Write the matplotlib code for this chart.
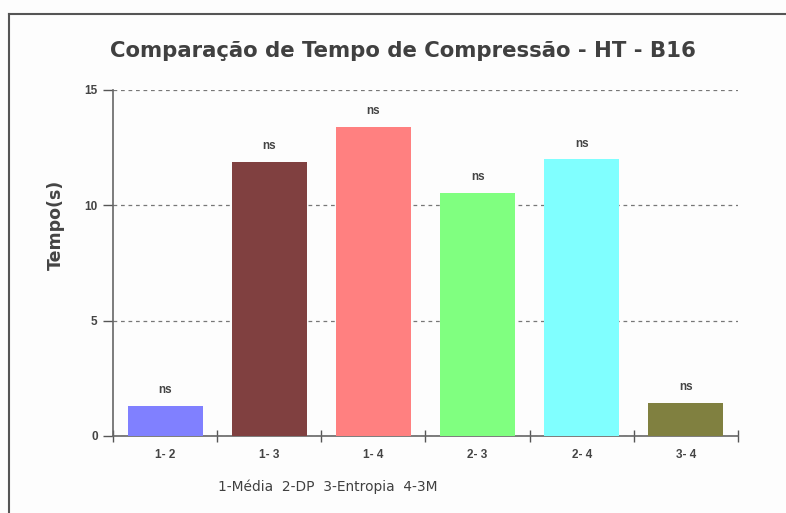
import matplotlib.pyplot as plt
from matplotlib.lines import Line2D

plt.rcParams['font.family'] = ['Liberation Sans', 'DejaVu Sans']

# Pairwise comparisons and compression time (s)
pairs = ['1- 2', '1- 3', '1- 4', '2- 3', '2- 4', '3- 4']
tempo = [1.3, 11.9, 13.4, 10.55, 12.0, 1.45]
signif = ['ns', 'ns', 'ns', 'ns', 'ns', 'ns']
cores = ['#8080ff', '#804040', '#ff8080', '#80ff80', '#80ffff', '#808040']

W, H = 786, 513
fig = plt.figure(figsize=(W / 100, H / 100), dpi=100)
fig.patch.set_facecolor('#fdfdfd')

# axes box in pixels: x 113..738, y 90..436
ax = fig.add_axes([113 / W, 1 - 436 / H, 625 / W, 346 / H])
ax.set_facecolor('#fdfdfd')

x = range(len(pairs))
ax.bar(x, tempo, width=0.72, color=cores, zorder=3)
for xi, v, s in zip(x, tempo, signif):
    ax.text(xi, v + 0.42, s, ha='center', va='bottom', fontsize=8.5,
            fontweight='bold', color='#444444')

ax.set_xlim(-0.5, len(pairs) - 0.5)
ax.set_ylim(0, 15)
ax.set_yticks([0, 5, 10, 15])
ax.yaxis.grid(True, linestyle=(0, (3, 3)), color='#777777', linewidth=0.9, zorder=0)

# x ticks sit on the category boundaries, labels centred under the bars
ax.set_xticks([i - 0.5 for i in range(len(pairs) + 1)])
ax.set_xticklabels([])
ax.set_xticks(list(x), minor=True)
ax.set_xticklabels(pairs, minor=True)
ax.tick_params(axis='x', which='major', length=8, width=1, color='#555555', direction='inout')
ax.tick_params(axis='x', which='minor', length=0, pad=9, labelsize=8.5, labelcolor='#444444')
ax.tick_params(axis='y', length=7, width=1, color='#555555', pad=4, labelsize=8.5,
               labelcolor='#444444')
for lab in ax.get_xticklabels(minor=True) + ax.get_yticklabels():
    lab.set_fontweight('bold')

for side in ['top', 'right']:
    ax.spines[side].set_visible(False)
for side in ['left', 'bottom']:
    ax.spines[side].set_color('#666666')
    ax.spines[side].set_linewidth(1.2)

fig.text(56 / W, 1 - 225 / H, 'Tempo(s)', rotation=90, ha='center', va='center',
         fontsize=12.5, fontweight='bold', color='#444444', family='DejaVu Sans')

fig.text(402.5 / W, 1 - 51 / H, 'Comparação de Tempo de Compressão - HT - B16',
         ha='center', va='center', fontsize=15.3, fontweight='bold', color='#404040',
         family='DejaVu Sans')
fig.text(328 / W, 1 - 487 / H, '1-Média  2-DP  3-Entropia  4-3M',
         ha='center', va='center', fontsize=9.9, color='#404040', family='DejaVu Sans')

# frame lines along the top and left edges
fig.add_artist(Line2D([9 / W, 1], [1 - 13.5 / H, 1 - 13.5 / H], color='#555555', linewidth=1.5))
fig.add_artist(Line2D([9 / W, 9 / W], [0, 1 - 13.5 / H], color='#555555', linewidth=1.5))

fig.savefig('out.png', dpi=100, facecolor=fig.get_facecolor())
